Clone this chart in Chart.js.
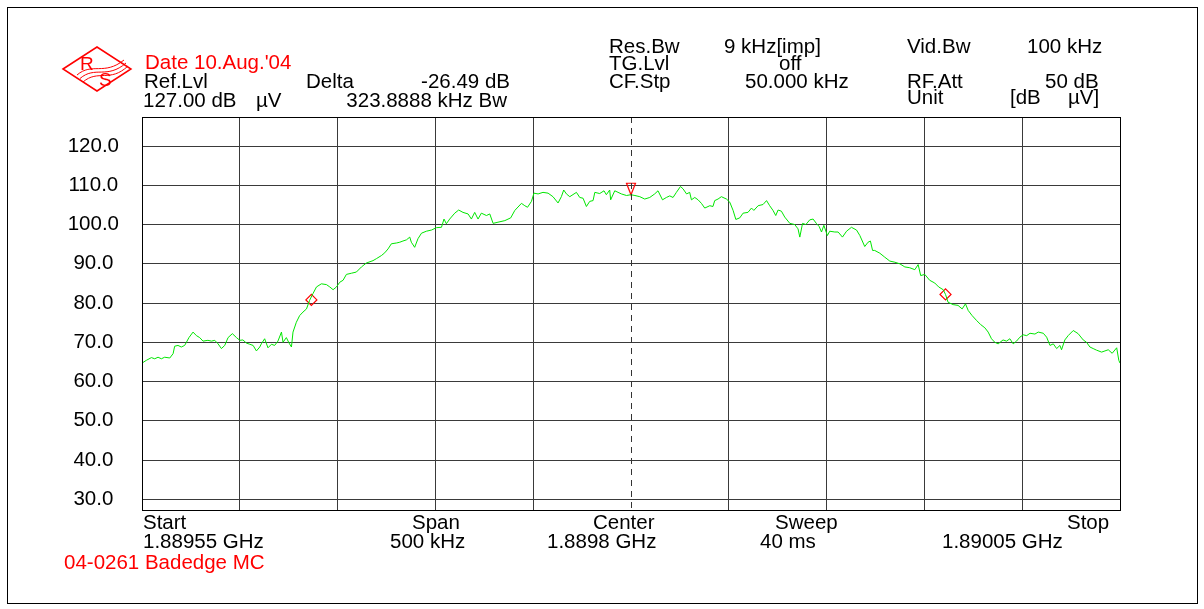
<!DOCTYPE html>
<html><head><meta charset="utf-8">
<script src="https://cdn.jsdelivr.net/npm/chart.js@4.4.0/dist/chart.umd.min.js"></script>
<style>
html,body{margin:0;padding:0;background:#fff;}
#wrap{position:relative;width:1204px;height:609px;}
</style></head><body>
<div id="wrap"><canvas id="c" width="1204" height="609"></canvas></div>
<script>
// ---- data (kHz offset from start frequency 1.88955 GHz, level in dBµV) ----
const offsetKHz = [
0,2.2,4.8,6.5,8.2,9.9,11.6,14.2,15.9,16.7,18.4,20.1,21.8,22.7,24.0,26.1,27.8,29.5,31.2,33.7,35.5,37.2,38.9,40.6,42.3,44.0,46.2,48.3,50.0,51.6,53.4,55.1,56.8,58.5,60.2,61.0,62.7,64.4,66.2,67.8,69.5,71.3,72.1,73.8,75.2,76.4,77.2,78.9,80.6,82.3,84.1,85.7,87.4,89.2,91.7,94.3,96.0,97.7,99.4,101.1,102.8,104.5,107.1,109.6,112.2,114.7,118.1,119.8,122.4,124.1,
125.8,127.5,130.1,131.8,133.4,135.2,136.9,137.7,139.4,141.1,142.9,145.4,148.0,150.5,153.1,154.4,155.6,157.3,159.9,161.9,164.1,166.7,168.4,170.1,171.8,173.5,176.1,177.8,179.5,182.0,185.5,188.5,190.6,194.0,195.7,197.1,199.1,200.4,202.5,205.0,207.6,210.1,212.7,214.4,215.6,217.0,218.7,222.1,223.8,225.5,227.2,228.9,230.6,231.5,234.0,236.2,237.4,239.1,239.6,241.7,245.1,247.7,249.9,
252.0,254.5,257.0,259.6,262.1,263.8,266.1,268.1,269.8,271.5,273.2,275.3,276.6,278.4,280.0,280.9,282.6,284.3,286.0,287.7,290.3,291.9,292.8,294.5,296.2,298.8,300.5,302.2,303.6,305.6,307.3,309.8,311.6,312.8,315.0,317.5,319.3,320.9,322.6,324.0,325.2,326.9,328.6,331.2,333.7,335.4,336.3,337.7,339.4,341.4,343.1,344.9,346.2,347.4,348.6,350.4,351.6,354.2,355.9,358.1,360.2,362.7,365.3,367.0,369.5,371.2,372.4,373.5,
374.6,377.2,379.7,382.3,384.9,387.4,390.0,392.5,395.1,396.8,398.1,400.2,402.7,405.3,407.3,409.6,410.8,412.1,414.7,417.2,419.3,421.0,422.4,424.4,426.6,428.8,430.9,432.6,434.3,436.0,437.7,440.2,442.0,443.7,445.4,447.1,448.8,450.5,452.3,454.0,456.5,458.2,460.8,462.5,464.2,465.9,467.6,469.3,470.1,471.8,473.5,476.1,478.6,481.2,482.9,484.6,486.3,488.0,490.6,492.3,494.0,496.0,498.3,499.4,500
];
const levelDBuV = [
64.7,65.4,66.1,65.8,66.2,65.8,66.2,66.0,67.1,69.0,69.2,68.8,69.2,70.0,71.2,72.6,71.7,71.2,70.3,70.5,70.3,70.5,69.6,68.4,69.2,71.2,72.2,71.2,70.5,70.6,69.8,69.5,69.2,67.8,68.8,69.6,70.9,68.6,69.5,69.2,70.3,72.6,70.0,71.2,69.8,68.8,72.6,75.1,76.8,77.7,78.5,80.7,82.4,84.1,84.9,84.7,84.1,83.4,84.1,85.3,85.8,87.3,87.6,87.9,89.2,90.2,90.8,91.3,92.1,92.8,
93.8,95.1,95.3,95.5,95.8,96.1,96.8,95.5,94.2,96.4,97.8,98.3,98.6,99.2,99.3,101.4,100.2,101.4,102.9,103.7,103.1,102.7,101.4,103.1,101.4,102.9,102.3,102.7,100.3,100.6,101.0,101.7,103.6,105.4,104.8,104.4,105.9,108.0,107.8,108.2,108.0,107.1,105.5,107.1,108.8,107.8,107.1,108.2,106.9,106.7,104.6,105.9,106.1,108.2,107.9,108.6,107.6,108.8,106.3,108.6,107.8,107.4,107.6,
107.4,107.1,106.5,106.9,107.8,108.6,106.3,106.9,107.3,106.9,108.2,109.7,109.1,107.8,108.2,106.3,106.9,106.3,105.4,104.2,104.8,104.6,106.1,106.5,107.1,106.5,105.7,103.6,101.3,101.7,102.9,103.1,104.2,103.6,104.8,105.1,106.1,104.8,103.6,102.3,103.7,103.4,101.9,100.3,100.0,98.9,96.8,100.3,100.0,101.2,101.4,100.2,99.5,98.1,99.8,97.2,98.3,98.1,98.1,96.8,98.3,99.3,98.6,97.2,94.4,95.5,95.8,93.4,
93.4,92.7,91.7,90.7,90.4,90.0,89.2,89.0,88.5,89.8,87.0,87.3,85.8,85.1,84.1,83.4,82.2,80.2,79.6,79.4,78.5,79.8,78.1,76.8,75.6,74.5,73.7,72.6,70.9,70.0,69.6,70.6,70.3,70.9,69.6,70.3,71.3,71.9,71.7,72.3,72.1,72.6,72.3,71.3,69.2,69.6,68.4,69.2,68.1,70.6,71.7,73.0,72.2,70.6,70.0,68.8,68.4,68.0,67.5,67.8,68.1,67.2,68.6,65.4,64.7
];
const markerOffsetKHz = [86.6, 410.8];
const markerLevel = [80.8, 82.2];
const refMarkerOffsetKHz = [250];
const refMarkerLevel = [107.6];
const xTickValues = [0,50,100,150,200,250,300,350,400,450,500];
const yTickValues = [30,40,50,60,70,80,90,100,110,120];
const yMin = 27.4, yMax = 127.4;
const centerOffsetKHz = 250;

const headerTexts = [
  ["Date 10.Aug.'04", 'red'],
  ['Ref.Lvl'],['Delta'],['-26.49 dB'],['127.00 dB'],['µV'],['323.8888 kHz Bw'],
  ['Res.Bw'],['9 kHz[imp]'],['Vid.Bw'],['100 kHz'],
  ['TG.Lvl'],['off'],
  ['CF.Stp'],['50.000 kHz'],['RF.Att'],['50 dB'],
  ['Unit'],['[dB'],['µV]']
];
const footerTexts = [
  ['Start'],['1.88955 GHz'],['Span'],['500 kHz'],['Center'],['1.8898 GHz'],
  ['Sweep'],['40 ms'],['Stop'],['1.89005 GHz'],['04-0261 Badedge MC','red']
];
// ---- layout (positions for the texts, in same order) ----
const headerPos = [
  [145,69,'left'],
  [144,88,'left'],[306,88,'left'],[510,88,'right'],[143,107,'left'],[256,107,'left'],[507,107,'right'],
  [609,53,'left'],[724,53,'left'],[907,53,'left'],[1027,53,'left'],
  [609,70,'left'],[779,70,'left'],
  [609,88,'left'],[745,88,'left'],[907,88,'left'],[1045,88,'left'],
  [907,104,'left'],[1010,104,'left'],[1068,104,'left']
];
const footerPos = [
  [143,529,'left'],[143,548,'left'],[412,529,'left'],[390,548,'left'],[593,529,'left'],[547,548,'left'],
  [775,529,'left'],[760,548,'left'],[1067,529,'left'],[942,548,'left'],[64,569,'left']
];

const FONT = '"Liberation Sans", Arial, Helvetica, sans-serif';
const RED = '#ff0000';
const GRID = '#3a3a3a';

// inverted-triangle marker image: tip at the image centre
const tri = document.createElement('canvas');
tri.width = 14; tri.height = 26;
(function(){
  const t = tri.getContext('2d');
  t.strokeStyle = RED; t.lineWidth = 1.2;
  t.beginPath(); t.moveTo(2.5,1.5); t.lineTo(11.5,1.5); t.lineTo(7,13); t.closePath(); t.stroke();
})();

const decor = {
  id: 'decor',
  beforeDraw(chart) {
    const ctx = chart.ctx;
    ctx.save();
    ctx.fillStyle = '#fff';
    ctx.fillRect(0,0,chart.width,chart.height);
    ctx.restore();
  },
  afterDraw(chart) {
    const ctx = chart.ctx;
    const a = chart.chartArea;
    const xs = chart.scales.x;
    ctx.save();
    // dashed centre line
    const cx = Math.round(xs.getPixelForValue(centerOffsetKHz)) + 0.5;
    ctx.strokeStyle = '#333'; ctx.lineWidth = 1;
    ctx.setLineDash([6,5]);
    ctx.beginPath(); ctx.moveTo(cx, a.top); ctx.lineTo(cx, a.bottom); ctx.stroke();
    ctx.setLineDash([]);
    // plot frame
    ctx.strokeStyle = '#000'; ctx.lineWidth = 1;
    ctx.strokeRect(Math.round(a.left)+0.5, Math.round(a.top)+0.5, Math.round(a.right-a.left), Math.round(a.bottom-a.top));
    // outer frame
    ctx.strokeRect(7.5, 7.5, 1190, 596);
    // logo
    ctx.strokeStyle = RED; ctx.lineWidth = 1.5;
    ctx.beginPath(); ctx.moveTo(63,69); ctx.lineTo(97,47); ctx.lineTo(131,69); ctx.lineTo(97,91); ctx.closePath(); ctx.stroke();
    ctx.lineWidth = 1;
    for (let k=0;k<3;k++){
      ctx.beginPath();
      ctx.moveTo(77+3*k, 75+3.5*k);
      ctx.bezierCurveTo(92+3*k, 62+3.5*k, 104+3*k, 76+3.5*k, 124+2*k, 60+3*k);
      ctx.stroke();
    }
    ctx.fillStyle = RED;
    ctx.font = '19px ' + FONT;
    ctx.textAlign = 'left'; ctx.textBaseline = 'alphabetic';
    ctx.fillText('R', 80, 70);
    ctx.fillText('S', 99, 86);
    // texts
    ctx.font = '20.5px ' + FONT;
    const put = (list, pos) => list.forEach((t,i) => {
      ctx.fillStyle = t[1] === 'red' ? RED : '#000';
      ctx.textAlign = pos[i][2];
      ctx.fillText(t[0], pos[i][0], pos[i][1]);
    });
    put(headerTexts, headerPos);
    put(footerTexts, footerPos);
    ctx.restore();
  }
};

new Chart(document.getElementById('c'), {
  type: 'line',
  data: {
    datasets: [
      {
        label: 'trace',
        data: offsetKHz.map((x,i) => ({x, y: levelDBuV[i]})),
        borderColor: '#00e600', borderWidth: 1, pointRadius: 0, tension: 0, fill: false
      },
      {
        label: 'markers',
        data: markerOffsetKHz.map((x,i) => ({x, y: markerLevel[i]})),
        showLine: false, pointStyle: 'rectRot', pointRadius: 5.5,
        borderColor: RED, backgroundColor: 'rgba(0,0,0,0)', borderWidth: 1.2
      },
      {
        label: 'ref marker',
        data: refMarkerOffsetKHz.map((x,i) => ({x, y: refMarkerLevel[i]})),
        showLine: false, pointStyle: tri, pointRadius: 7
      }
    ]
  },
  options: {
    responsive: false, animation: false, devicePixelRatio: 1,
    layout: { padding: { left: 0, top: 117, right: 84, bottom: 99.5 } },
    plugins: { legend: { display: false }, tooltip: { enabled: false } },
    scales: {
      x: {
        type: 'linear', min: 0, max: 500,
        afterBuildTicks: s => { s.ticks = xTickValues.map(v => ({value: v})); },
        ticks: { display: false },
        grid: { color: c => (c.tick && c.tick.value === centerOffsetKHz) ? 'rgba(0,0,0,0)' : GRID, lineWidth: 1, drawTicks: false },
        border: { display: false }
      },
      y: {
        min: yMin, max: yMax,
        afterBuildTicks: s => { s.ticks = yTickValues.map(v => ({value: v})); },
        afterFit: s => { s.width = 142; },
        ticks: {
          callback: v => Number(v).toFixed(1), color: '#000',
          font: { family: FONT, size: 20.5 }, padding: 23, crossAlign: 'center', autoSkip: false
        },
        grid: { color: GRID, lineWidth: 1, drawTicks: false },
        border: { display: false }
      }
    }
  },
  plugins: [decor]
});
</script>
</body></html>
